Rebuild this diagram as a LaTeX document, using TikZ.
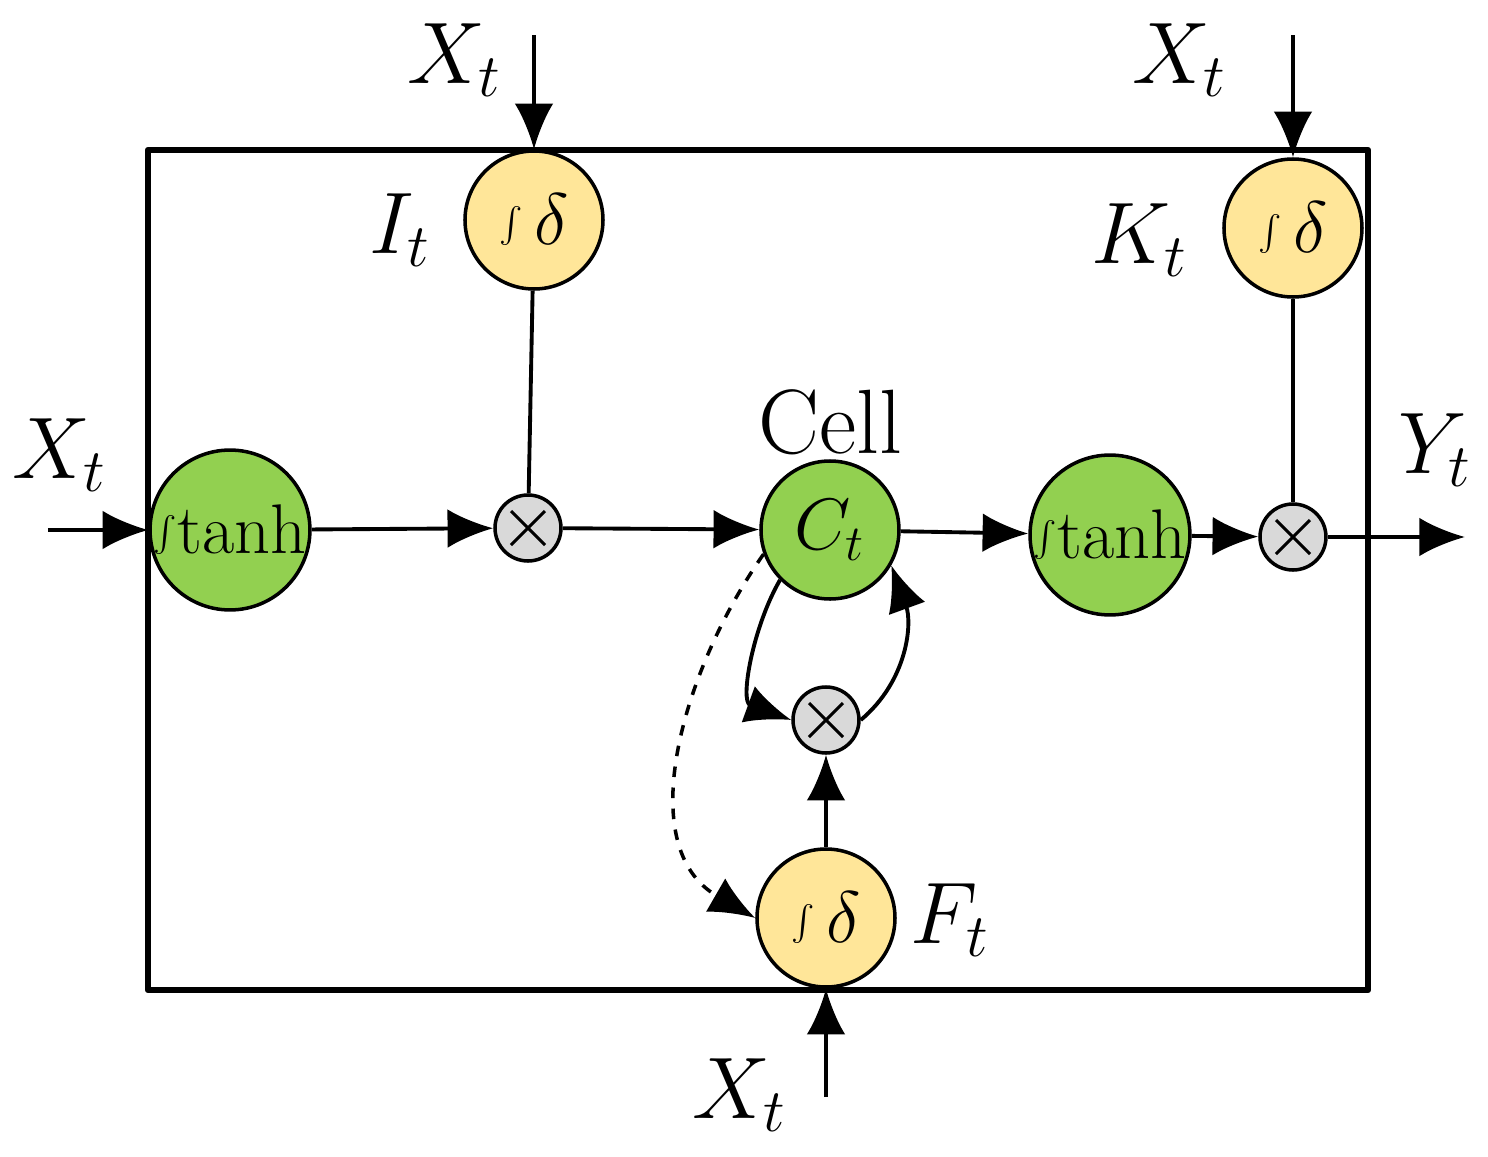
\documentclass[tikz,border=0pt]{standalone}
\usepackage{tikz}
\usetikzlibrary{arrows.meta}
\definecolor{gateyel}{RGB}{255,230,153}
\definecolor{cellgrn}{RGB}{146,208,80}
\definecolor{multgry}{RGB}{217,217,217}
\begin{document}
\begin{tikzpicture}[line join=round,
  gate/.style={circle,draw,line width=1pt,fill=gateyel,minimum size=1.38cm,inner sep=0pt,font=\fontsize{22}{24}\selectfont},
  act/.style={circle,draw,line width=1pt,fill=cellgrn,minimum size=1.38cm,inner sep=0pt,font=\fontsize{20}{22}\selectfont},
  mult/.style={circle,draw,line width=1pt,fill=multgry,minimum size=0.66cm,inner sep=0pt,
    path picture={\draw[line width=0.9pt] ([shift={(-.17,-.17)}]path picture bounding box.center)--++(.34,.34)
      ([shift={(-.17,.17)}]path picture bounding box.center)--++(.34,-.34);}},
  lab/.style={font=\fontsize{26}{28}\selectfont},
  flow/.style={line width=1.1pt,-{Latex[length=13pt,width=11pt]}},
  link/.style={line width=1.1pt}]
\useasboundingbox (0,0) rectangle (14.88,-11.57);
\draw[line width=1.8pt] (1.48,-1.50) rectangle (13.68,-9.90);
% gates and cells
\node[act] (tanhA) at (2.30,-5.30) {$\int$tanh};
\node[mult] (mulI) at (5.28,-5.28) {};
\node[gate] (gateI) at (5.34,-2.20) {$\int\delta$};
\node[act] (cell) at (8.30,-5.30) {$C_t$};
\node[act] (tanhB) at (11.10,-5.35) {$\int$tanh};
\node[mult] (mulK) at (12.93,-5.37) {};
\node[gate] (gateK) at (12.93,-2.28) {$\int\delta$};
\node[mult] (mulF) at (8.26,-7.20) {};
\node[gate] (gateF) at (8.26,-9.18) {$\int\delta$};
% labels
\node[lab] (lcell) at (8.30,-4.22) {Cell};
\node[lab] (lI) at (4.00,-2.30) {$I_t$};
\node[lab] (lK) at (11.40,-2.40) {$K_t$};
\node[lab] (lF) at (9.50,-9.20) {$F_t$};
\node[lab] (lY) at (14.35,-4.50) {$Y_t$};
\node[lab] (xA) at (0.60,-4.55) {$X_t$};
\node[lab] (xI) at (4.55,-0.60) {$X_t$};
\node[lab] (xK) at (11.80,-0.60) {$X_t$};
\node[lab] (xF) at (7.40,-10.95) {$X_t$};
\coordinate (inA) at (0.48,-5.30);
\coordinate (inI) at (5.34,-0.35);
\coordinate (inK) at (12.93,-0.35);
\coordinate (inF) at (8.26,-10.97);
\coordinate (outY) at (14.65,-5.37);
% connectors
\draw[flow] (inA) -- (tanhA);
\draw[flow] (tanhA) -- (mulI);
\draw[link] (gateI) -- (mulI);
\draw[flow] (inI) -- (gateI);
\draw[flow] (mulI) -- (cell);
\draw[flow] (cell) -- (tanhB);
\draw[flow] (tanhB) -- (mulK);
\draw[link] (gateK) -- (mulK);
\draw[flow] (inK) -- (gateK);
\draw[flow] (mulK) -- (outY);
\draw[flow] (inF) -- (gateF);
\draw[flow] (gateF) -- (mulF);
\draw[flow] (cell.225) to[out=240,in=160] (mulF.west);
\draw[flow] (mulF.east) to[out=40,in=-70] (cell.-30);
\draw[flow,dashed,line width=1pt] (cell.200) to[out=235,in=150] (gateF.west);
\end{tikzpicture}
\end{document}
